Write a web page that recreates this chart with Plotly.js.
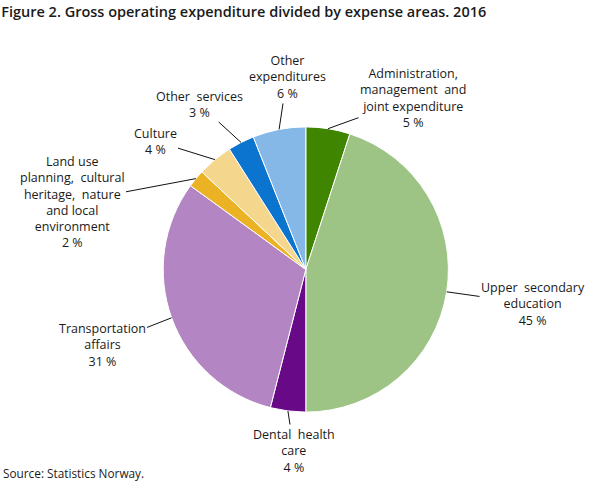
<!DOCTYPE html>
<html>
<head>
<meta charset="utf-8">
<script src="https://cdn.plot.ly/plotly-3.0.1.min.js"></script>
<style>
  html, body { margin: 0; padding: 0; background: #fff; }
  #grafico { width: 608px; height: 489px; }
</style>
</head>
<body>
<div id="grafico"></div>
<script>
// dados (percent of gross operating expenditure, 2016)
const areas = [
  'Administration,<br>management  and<br>joint expenditure',
  'Upper  secondary<br>education',
  'Dental  health<br>care',
  'Transportation<br>affairs',
  'Land use<br>planning,  cultural<br>heritage,  nature<br>and local<br>environment',
  'Culture',
  'Other  services',
  'Other<br>expenditures'
];
const percent = [5, 45, 4, 31, 2, 4, 3, 6];
const colors = ['#3f8500', '#9dc484', '#680a87', '#b385c3', '#ebb224', '#f4d68c', '#0b74cf', '#85b8e6'];

// where each label text sits (pixel centre), layout only
const labelPos = [[413, 98], [533, 304], [294, 451], [102, 345], [72, 202], [155, 141], [199, 104], [287, 77]];

const W = 608, H = 489;
const cx = 305.8, cy = 269.5, R = 142.6;

const trace = {
  type: 'pie',
  values: percent,
  labels: areas,
  sort: false,
  direction: 'clockwise',
  rotation: 0,
  textinfo: 'none',
  hoverinfo: 'label+percent',
  marker: { colors: colors, line: { color: '#ffffff', width: 1 } },
  domain: { x: [(cx - R) / W, (cx + R) / W], y: [(H - cy - R) / H, (H - cy + R) / H] },
  showlegend: false
};

// leader lines: point on the rim at the middle of each slice
const total = percent.reduce((a, b) => a + b, 0);
let acc = 0;
const annotations = percent.map((v, i) => {
  const mid = (acc + v / 2) / total;
  acc += v;
  const th = 2 * Math.PI * mid;
  const px = cx + R * Math.sin(th);
  const py = cy - R * Math.cos(th);
  return {
    xref: 'paper', yref: 'paper',
    x: px / W, y: 1 - py / H,
    ax: labelPos[i][0] - px, ay: labelPos[i][1] - py,
    text: areas[i] + '<br>' + v + ' %',
    showarrow: true, arrowhead: 0, arrowwidth: 1, arrowcolor: '#111', standoff: 0,
    font: { family: 'Open Sans, sans-serif', size: 12.5, color: '#1a1a1a' },
    align: 'center'
  };
});

annotations.push({
  xref: 'paper', yref: 'paper', x: 0.002, y: 1 - 473 / H,
  xanchor: 'left', yanchor: 'middle', showarrow: false,
  text: 'Source: Statistics Norway.',
  font: { family: 'Open Sans, sans-serif', size: 11.8, color: '#1a1a1a' }
});

const layout = {
  width: W, height: H,
  margin: { l: 0, r: 0, t: 0, b: 0 },
  paper_bgcolor: '#fff',
  title: {
    text: 'Figure 2. Gross operating expenditure divided by expense areas. 2016',
    x: 0.002, xanchor: 'left', xref: 'paper',
    y: 1 - 12 / H, yanchor: 'middle',
    font: { family: 'Open Sans, sans-serif', size: 14.5, color: '#1a1a1a', weight: 600 }
  },
  annotations: annotations
};

Plotly.newPlot('grafico', [trace], layout, { displayModeBar: false, staticPlot: true });
</script>
</body>
</html>
